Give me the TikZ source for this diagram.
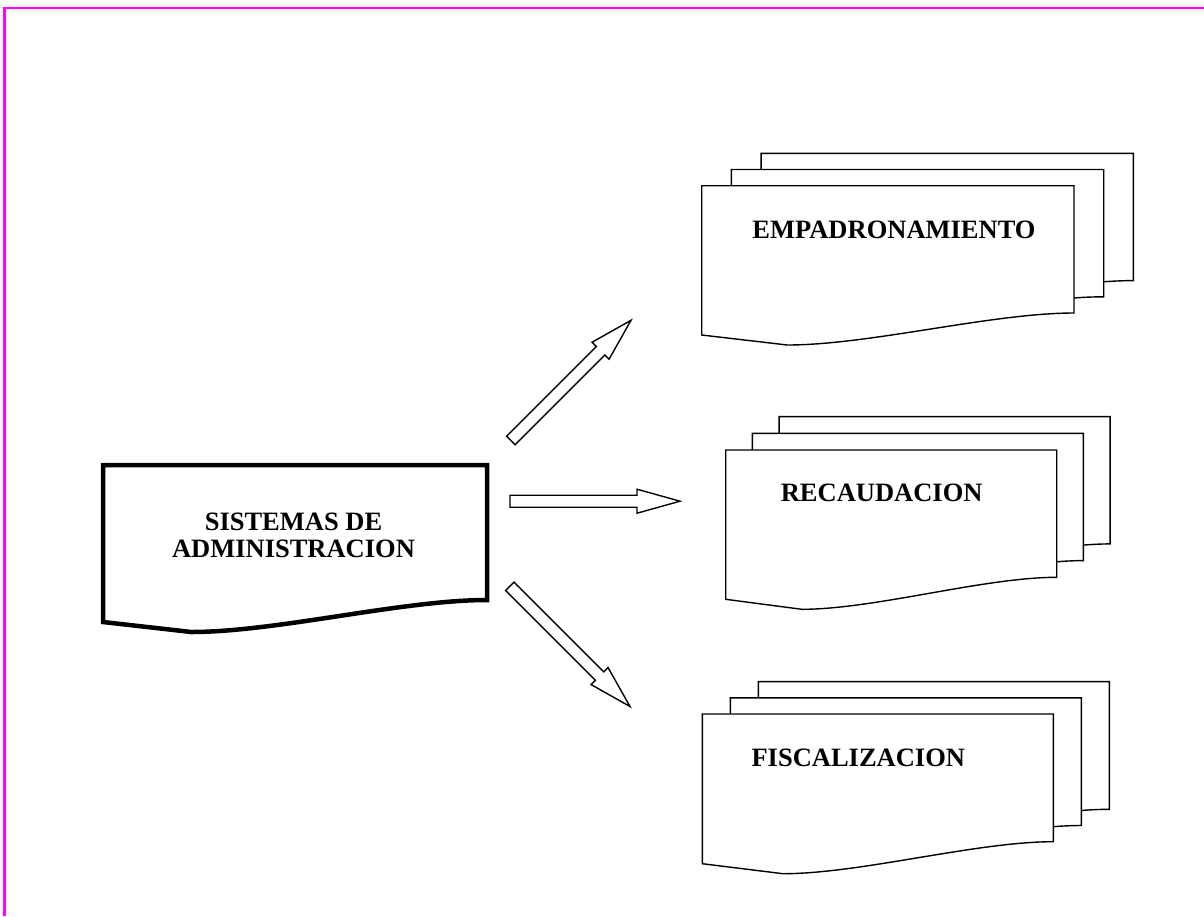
\documentclass[tikz,border=0pt]{standalone}
\usepackage{fontspec}
\setmainfont{Liberation Serif}
\tikzset{
  docline/.style={draw=black,line width=1.4pt,fill=white,line join=miter},
  bigdoc/.style={draw=black,line width=4.5pt,fill=white,line join=miter},
  blockarrow/.style={draw=black,line width=1.4pt,fill=white,line join=miter},
  frameline/.style={draw={rgb,255:red,255;green,0;blue,255},line width=2.2pt},
  label/.style={font=\bfseries\fontsize{26.5}{27}\selectfont,inner sep=0pt,anchor=base}
}
% document shape: style, left, top, width, height
\newcommand\docshape[5]{%
  \pgfmathsetmacro\dR{#2+#4}%
  \pgfmathsetmacro\dB{#3+#5}%
  \pgfmathsetmacro\dBm{#3+#5+32}%
  \pgfmathsetmacro\dBl{#3+#5+22}%
  \pgfmathsetmacro\dMx{#2+0.23*#4}%
  \pgfmathsetmacro\cAx{#2+0.78*#4}%
  \pgfmathsetmacro\cBx{#2+0.45*#4}%
  \path[#1] (#2,#3) -- (\dR,#3) -- (\dR,\dB) .. controls (\cAx,\dB) and (\cBx,\dBm) .. (\dMx,\dBm) -- (#2,\dBl) -- cycle;%
}
% stack of three documents: left, top, width, height, dx, dy (front document given)
\newcommand\docstack[6]{%
  \pgfmathsetmacro\sLb{#1+2*#5}\pgfmathsetmacro\sTb{#2+2*#6}%
  \pgfmathsetmacro\sLm{#1+#5}\pgfmathsetmacro\sTm{#2+#6}%
  \docshape{docline}{\sLb}{\sTb}{#3}{#4}%
  \docshape{docline}{\sLm}{\sTm}{#3}{#4}%
  \docshape{docline}{#1}{#2}{#3}{#4}%
}
\begin{document}
\begin{tikzpicture}[x=1pt,y=-1pt]
\useasboundingbox (0,0) rectangle (1204,916);
% frame (top and left only)
\draw[frameline] (4.5,916) -- (4.5,7.8) -- (1204,7.8);

% main document
\docshape{bigdoc}{103}{465}{384}{135}
\node[label] (sys1) at (293.5,530) {SISTEMAS DE};
\node[label] (sys2) at (293.5,557) {ADMINISTRACION};

% stacks
\docstack{701.7}{185.7}{372.3}{127.3}{29.7}{-16.2}
\node[label] (emp) at (894,238) {EMPADRONAMIENTO};

\docstack{725.7}{450}{331}{127.3}{26.7}{-16.7}
\node[label] (rec) at (881.7,501) {RECAUDACION};

\docstack{702.3}{714}{351}{127.7}{28}{-16.2}
\node[label] (fis) at (858.3,766.7) {FISCALIZACION};

% block arrows
\coordinate (a1) at (510.8,440.5);
\coordinate (a2) at (510,501.2);
\coordinate (a3) at (509.8,586.3);
\foreach \c/\ang in {a1/45,a2/0,a3/-45}{
  \begin{scope}[shift={(\c)},rotate=\ang]
    \path[blockarrow] (0,-6) -- (127,-6) -- (127,-12) -- (170,0) -- (127,12) -- (127,6) -- (0,6) -- cycle;
  \end{scope}
}
\end{tikzpicture}
\end{document}
